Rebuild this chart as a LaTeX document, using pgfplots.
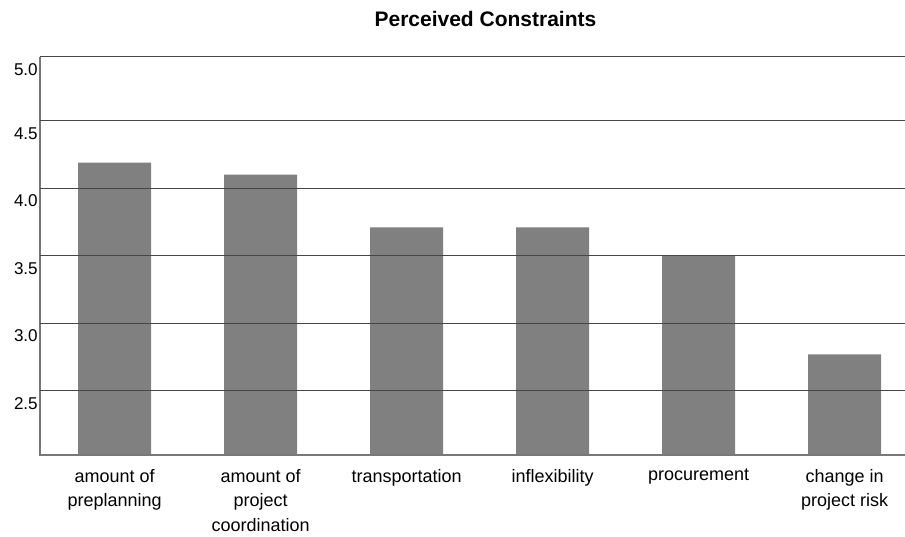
\documentclass[border=0pt]{standalone}
\usepackage{fontspec}
\setmainfont{Liberation Sans}
\usepackage{pgfplots}
\pgfplotsset{compat=1.18}
\definecolor{barcol}{RGB}{128,128,128}
\definecolor{gridcol}{RGB}{70,70,70}
\definecolor{axcol}{RGB}{120,120,120}
\begin{document}
\begin{tikzpicture}[x=1pt,y=1pt]
\useasboundingbox (-30,-60.75) rectangle (648.75,341.25);
\begin{axis}[
  at={(0,0)}, anchor=south west, scale only axis,
  width=648.75pt, height=298.7pt,
  xmin=-0.5116, xmax=5.413, ymin=2.024, ymax=4.974,
  axis line style={draw=none},
  ybar, bar width=0.5,
  xtick={0,1,2,3,4,5},
  xticklabels={amount of\\preplanning, amount of\\project\\coordination, transportation, inflexibility, procurement, change in\\project risk},
  xticklabel style={align=center, font=\fontsize{13.5}{18.5}\selectfont, yshift=-7pt},
  ytick={2.5,3,3.5,4,4.5,4.974},
  yticklabels={2.5,3.0,3.5,4.0,4.5,5.0},
  yticklabel style={font=\fontsize{12.8}{14}\selectfont, anchor=east, inner xsep=1.5pt, yshift=-9.5pt},
  /pgf/number format/assume math mode=true,
  ymajorgrids, grid style={color=gridcol, line width=0.75pt},
  major tick length=0pt, tick style={draw=none},
  axis on top,
  clip=false,
]
\addplot[fill=barcol, draw=none] coordinates {(0,4.19) (1,4.10) (2,3.71) (3,3.71) (4,3.50) (5,2.77)};
\draw[axcol, line width=0.9pt] (rel axis cs:0,1) -- (rel axis cs:0,0) -- (rel axis cs:1,0);
\end{axis}
\node[anchor=base, font=\bfseries\fontsize{15.75}{18}\selectfont] at (334.1,321) {Perceived Constraints};
\end{tikzpicture}
\end{document}
